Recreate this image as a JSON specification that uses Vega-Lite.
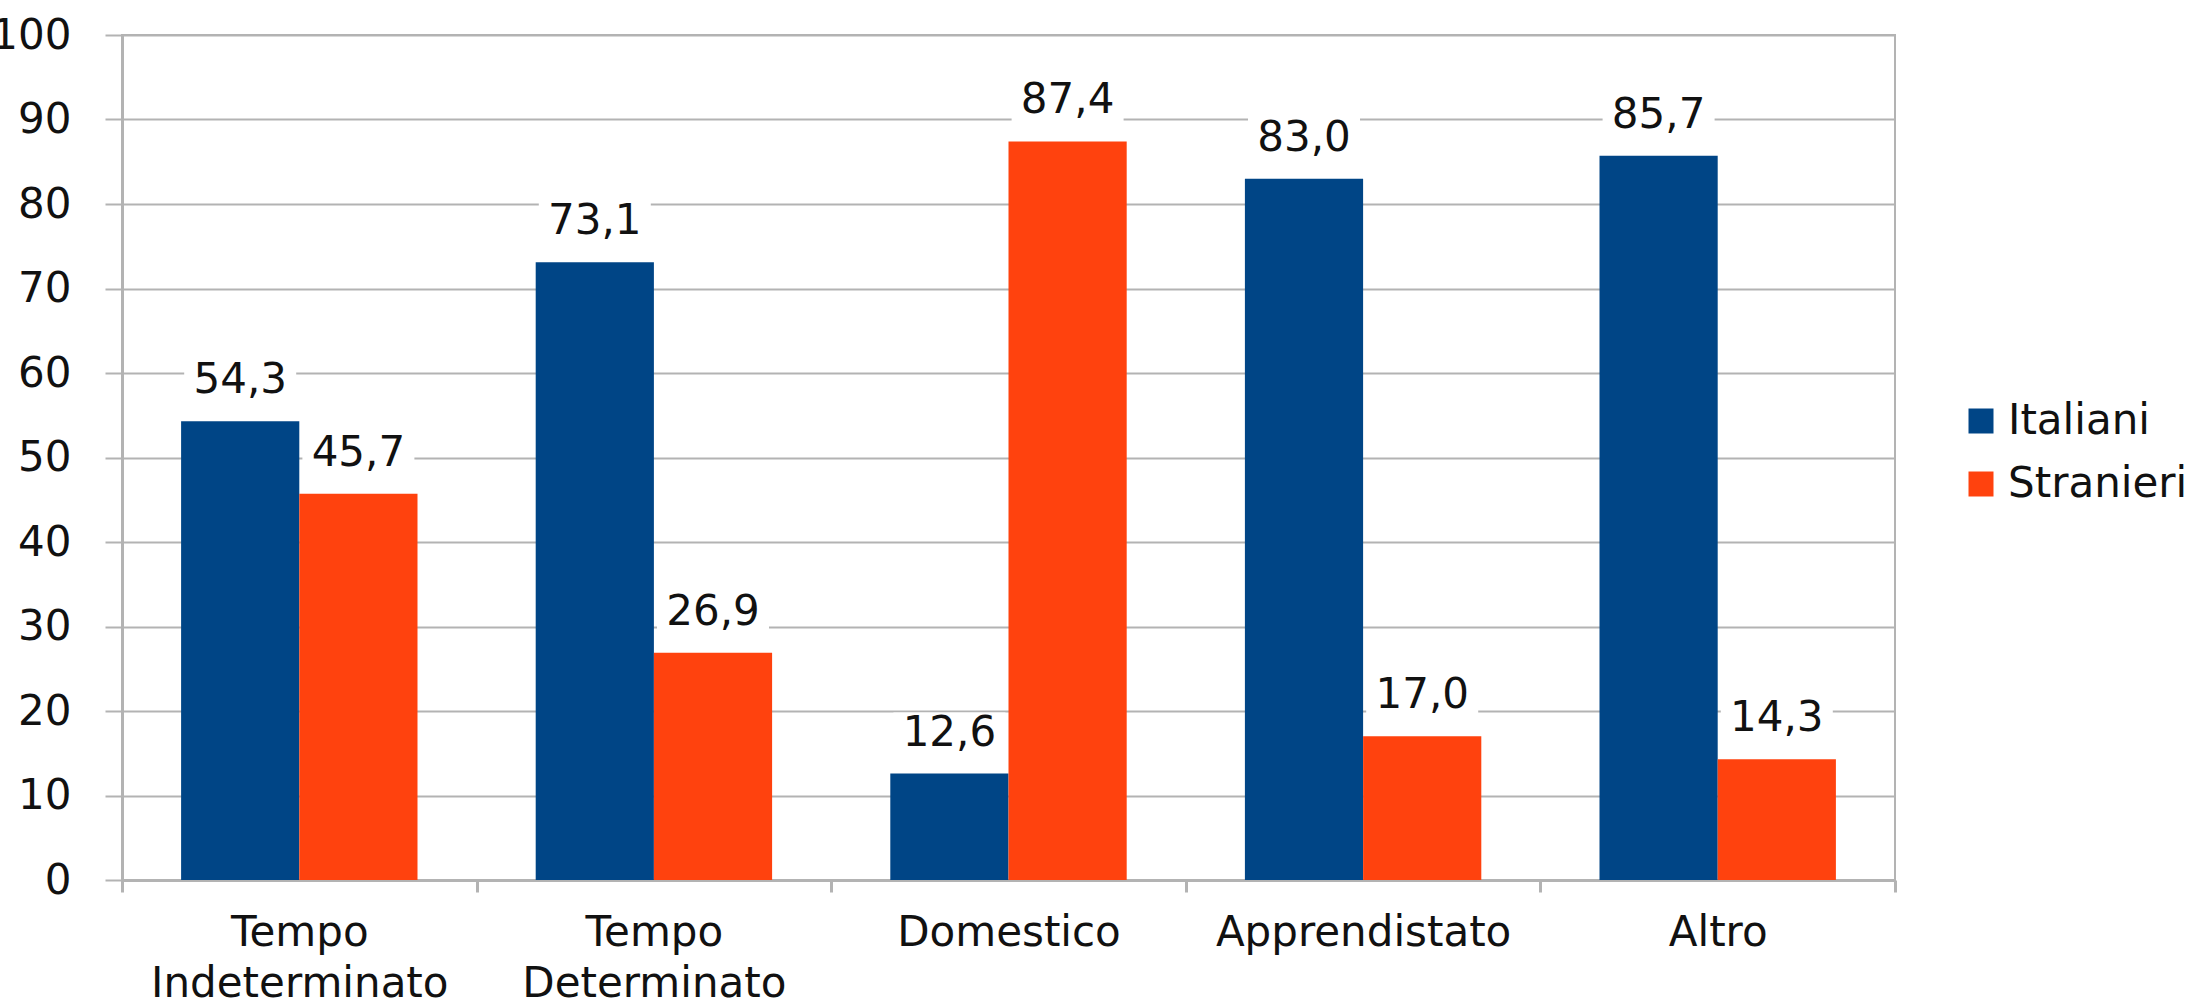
{
  "$schema": "https://vega.github.io/schema/vega-lite/v6.json",
  "width": 1773,
  "height": 845,
  "autosize": {"type": "none"},
  "padding": {"left": 122, "top": 35, "right": 306, "bottom": 125},
  "background": "white",
  "data": {
    "values": [
      {"tipo": "Tempo Indeterminato", "gruppo": "Italiani", "valore": 54.3},
      {"tipo": "Tempo Indeterminato", "gruppo": "Stranieri", "valore": 45.7},
      {"tipo": "Tempo Determinato", "gruppo": "Italiani", "valore": 73.1},
      {"tipo": "Tempo Determinato", "gruppo": "Stranieri", "valore": 26.9},
      {"tipo": "Domestico", "gruppo": "Italiani", "valore": 12.6},
      {"tipo": "Domestico", "gruppo": "Stranieri", "valore": 87.4},
      {"tipo": "Apprendistato", "gruppo": "Italiani", "valore": 83.0},
      {"tipo": "Apprendistato", "gruppo": "Stranieri", "valore": 17.0},
      {"tipo": "Altro", "gruppo": "Italiani", "valore": 85.7},
      {"tipo": "Altro", "gruppo": "Stranieri", "valore": 14.3}
    ]
  },
  "encoding": {
    "x": {
      "field": "tipo",
      "type": "nominal",
      "sort": null,
      "scale": {"paddingInner": 0, "paddingOuter": 0},
      "axis": {
        "title": null,
        "labelAngle": 0,
        "labelLimit": 0,
        "grid": false,
        "tickBand": "extent",
        "tickSize": 12,
        "tickWidth": 3,
        "tickColor": "#b3b3b3",
        "domainColor": "#b3b3b3",
        "domainWidth": 3,
        "labelExpr": "split(datum.label, ' ')",
        "labelLineHeight": 51,
        "labelPadding": 20,
        "labelFontSize": 42,
        "labelFont": "DejaVu Sans",
        "labelColor": "#111111"
      }
    },
    "xOffset": {
      "field": "gruppo",
      "type": "nominal",
      "sort": ["Italiani", "Stranieri"],
      "scale": {"paddingInner": 0, "paddingOuter": 0.5}
    },
    "y": {
      "field": "valore",
      "type": "quantitative",
      "scale": {"domain": [0, 100], "nice": false},
      "axis": {
        "title": null,
        "values": [0, 10, 20, 30, 40, 50, 60, 70, 80, 90, 100],
        "grid": true,
        "gridColor": "#b3b3b3",
        "gridWidth": 2,
        "domainColor": "#b3b3b3",
        "domainWidth": 3,
        "tickColor": "#b3b3b3",
        "tickWidth": 2,
        "tickSize": 17,
        "labelPadding": 34,
        "labelFontSize": 42,
        "labelFont": "DejaVu Sans",
        "labelColor": "#111111"
      }
    }
  },
  "layer": [
    {
      "mark": {"type": "bar"},
      "encoding": {
        "color": {
          "field": "gruppo",
          "type": "nominal",
          "scale": {"domain": ["Italiani", "Stranieri"], "range": ["#004586", "#ff420e"]},
          "legend": {
            "title": null,
            "orient": "none",
            "legendX": 1838,
            "legendY": 365,
            "symbolType": "square",
            "symbolSize": 625,
            "symbolStrokeWidth": 0,
            "labelFontSize": 42,
            "labelFont": "DejaVu Sans",
            "labelColor": "#111111",
            "labelLimit": 0,
            "labelOffset": 6,
            "rowPadding": 21,
            "padding": 0
          }
        }
      }
    },
    {
      "mark": {"type": "tick", "color": "white", "opacity": 1, "thickness": 46, "size": 112, "yOffset": -38},
      "encoding": {}
    },
    {
      "mark": {"type": "text", "baseline": "alphabetic", "dy": -28, "fontSize": 42, "font": "DejaVu Sans", "fill": "#111111"},
      "encoding": {"text": {"field": "valore", "type": "quantitative", "format": ".1f"}}
    }
  ],
  "config": {
    "view": {"stroke": "#b3b3b3", "strokeWidth": 2},
    "locale": {"number": {"decimal": ",", "thousands": ".", "grouping": [3], "currency": ["", " €"]}}
  }
}
